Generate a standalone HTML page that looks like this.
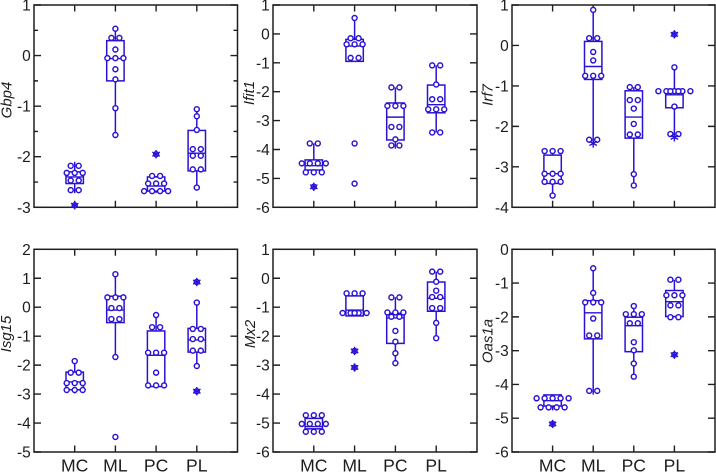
<!DOCTYPE html>
<html lang="en">
<head>
<meta charset="utf-8">
<title>Gene expression box plots</title>
<style>
html,body{margin:0;padding:0;background:#fff;width:716px;height:473px;overflow:hidden}
svg{display:block}
text{font-family:"Liberation Sans",Arial,sans-serif;fill:#1c1c1c}
</style>
</head>
<body>
<svg id="chart" width="716" height="473" viewBox="0 0 716 473" xmlns="http://www.w3.org/2000/svg"></svg>
<script>
const categories = ['MC', 'ML', 'PC', 'PL'];
const genes = ['Gbp4', 'Ifit1', 'Irf7', 'Isg15', 'Mx2', 'Oas1a'];

const yDomainMin = [-3, -6, -4, -5, -6, -6];
const yDomainMax = [1, 1, 1, 2, 1, 0];
const gbp4Ticks = [1, 0, -1, -2, -3];
const ifit1Ticks = [1, 0, -1, -2, -3, -4, -5, -6];
const irf7Ticks = [1, 0, -1, -2, -3, -4];
const isg15Ticks = [2, 1, 0, -1, -2, -3, -4, -5];
const mx2Ticks = [1, 0, -1, -2, -3, -4, -5, -6];
const oas1aTicks = [0, -1, -2, -3, -4, -5, -6];
const gbp4MinorTicks = [0.5, -0.5, -1.5, -2.5];

/* Repeated values sit side by side in a row. */
const gbp4Points = [
  [-2.18, -2.18, -2.32, -2.32, -2.32, -2.47, -2.47, -2.66, -2.66, -2.96],
  [0.53, 0.35, 0.35, 0.12, -0.05, -0.05, -0.05, -0.27, -0.47, -1.04, -1.57],
  [-1.95, -2.38, -2.38, -2.53, -2.53, -2.53, -2.68, -2.68, -2.68, -2.68],
  [-1.06, -1.2, -1.47, -1.85, -1.85, -1.98, -1.98, -2.25, -2.25, -2.61]
];
const ifit1Points = [
  [-3.79, -3.79, -4.48, -4.48, -4.48, -4.48, -4.79, -4.79, -4.79, -5.29],
  [0.55, -0.15, -0.15, -0.36, -0.36, -0.36, -0.83, -0.83, -3.79, -5.18],
  [-1.85, -1.85, -2.49, -2.49, -2.49, -3.22, -3.22, -3.65, -3.86, -3.86],
  [-1.09, -1.09, -1.75, -2.26, -2.26, -2.61, -2.61, -2.61, -3.41, -3.41]
];
const irf7Points = [
  [-2.61, -2.61, -2.61, -3.17, -3.17, -3.17, -3.37, -3.37, -3.37, -3.71],
  [0.88, 0.18, 0.18, -0.16, -0.37, -0.75, -0.75, -0.75, -2.33, -2.33],
  [-1.03, -1.03, -1.35, -1.35, -1.56, -1.94, -2.2, -2.2, -3.18, -3.46],
  [0.275, -0.54, -1.13, -1.13, -1.13, -1.13, -1.13, -1.131, -1.131, -1.51, -2.19, -2.19]
];
const isg15Points = [
  [-1.86, -2.26, -2.26, -2.62, -2.62, -2.62, -2.86, -2.86, -2.86],
  [1.14, 0.34, 0.34, 0.34, -0.03, -0.03, -0.41, -0.41, -1.72, -4.48],
  [-0.27, -0.69, -0.69, -1.57, -1.57, -1.57, -2.26, -2.7, -2.7, -2.7],
  [0.87, 0.16, -0.75, -0.75, -1.1, -1.1, -1.5, -1.5, -2.03, -2.9]
];
const mx2Points = [
  [-4.73, -4.73, -4.73, -5.03, -5.03, -5.03, -5.03, -5.3, -5.3, -5.3],
  [-0.52, -0.52, -0.52, -1.2, -1.2, -1.2, -1.2, -1.201, -2.51, -3.08],
  [-0.66, -0.66, -1.18, -1.18, -1.18, -1.33, -1.33, -1.82, -2.19, -2.59, -2.93],
  [0.23, 0.23, -0.12, -0.43, -0.65, -0.65, -1.03, -1.03, -1.54, -2.07]
];
const oas1aPoints = [
  [-4.41, -4.41, -4.41, -4.41, -4.41, -4.68, -4.68, -4.68, -4.68, -5.17],
  [-0.56, -1.29, -1.57, -1.57, -1.57, -2.05, -2.55, -2.55, -4.19, -4.19],
  [-1.68, -1.92, -1.92, -1.92, -2.19, -2.19, -2.75, -2.99, -3.38, -3.77],
  [-0.9, -0.9, -1.36, -1.36, -1.36, -1.66, -1.66, -2.01, -2.01, -3.12]
];

const gbp4Stars = [[-2.96], [], [-1.95], []];
const ifit1Stars = [[-5.29], [], [], []];
const irf7Stars = [[], [-2.42], [], [0.275, -2.27]];
const isg15Stars = [[], [], [], [0.87, -2.9]];
const mx2Stars = [[], [-2.51, -3.08], [], []];
const oas1aStars = [[-5.17], [], [], [-3.12]];

/* Each box: lower whisker, first quartile, median, third quartile, upper whisker. */
const gbp4Boxes = [
  [-2.72, -2.53, -2.4, -2.3, -2.1],
  [-1.57, -0.5, -0.06, 0.295, 0.53],
  [-2.72, -2.68, -2.58, -2.4, -2.38],
  [-2.61, -2.28, -1.93, -1.48, -1.06]
];
const ifit1Boxes = [
  [-4.9, -4.71, -4.56, -4.36, -3.79],
  [-0.95, -0.95, -0.42, -0.19, 0.55],
  [-3.97, -3.67, -2.88, -2.39, -1.85],
  [-3.41, -2.73, -2.45, -1.77, -1.09]
];
const irf7Boxes = [
  [-3.71, -3.41, -3.17, -2.71, -2.55],
  [-2.42, -0.84, -0.52, 0.1, 0.88],
  [-3.46, -2.29, -1.77, -1.12, -1.03],
  [-2.27, -1.54, -1.22, -1.08, -0.54]
];
const isg15Boxes = [
  [-2.98, -2.85, -2.58, -2.24, -1.86],
  [-1.72, -0.53, -0.1, 0.38, 1.14],
  [-2.74, -2.74, -1.66, -0.82, -0.27],
  [-2.03, -1.55, -1.13, -0.73, 0.16]
];
const mx2Boxes = [
  [-5.38, -5.2, -5.12, -4.84, -4.73],
  [-1.3, -1.3, -1.1, -0.61, -0.61],
  [-2.93, -2.25, -1.37, -1.21, -0.66],
  [-2.07, -1.14, -0.69, -0.13, 0.23]
];
const oas1aBoxes = [
  [-4.77, -4.64, -4.48, -4.31, -4.31],
  [-4.3, -2.65, -1.88, -1.52, -0.56],
  [-3.77, -3.03, -2.26, -2.01, -1.68],
  [-2.01, -1.99, -1.55, -1.22, -0.9]
];

const allTicks = [gbp4Ticks, ifit1Ticks, irf7Ticks, isg15Ticks, mx2Ticks, oas1aTicks];
const allMinor = [gbp4MinorTicks, [], [], [], [], []];
const allPoints = [gbp4Points, ifit1Points, irf7Points, isg15Points, mx2Points, oas1aPoints];
const allStars = [gbp4Stars, ifit1Stars, irf7Stars, isg15Stars, mx2Stars, oas1aStars];
const allBoxes = [gbp4Boxes, ifit1Boxes, irf7Boxes, isg15Boxes, mx2Boxes, oas1aBoxes];

const NS = 'http://www.w3.org/2000/svg';
const INK = '#1f1f1f';
const BLUE = '#2a12d4';
const svg = document.getElementById('chart');

const frames = [
  {l: 34, r: 237.5, t: 5, b: 207.3, labX: 11.7, labY: 100},
  {l: 273, r: 477, t: 5, b: 207.3, labX: 254, labY: 93},
  {l: 512, r: 715, t: 5, b: 207.3, labX: 492.7, labY: 95},
  {l: 34, r: 237.5, t: 249.3, b: 452, labX: 11, labY: 334},
  {l: 273, r: 477, t: 249.3, b: 452, labX: 255, labY: 334},
  {l: 512, r: 715, t: 249.3, b: 452, labX: 492.7, labY: 341}
];

function node(parent, tag, attrs) {
  const el = document.createElementNS(NS, tag);
  for (const k in attrs) el.setAttribute(k, attrs[k]);
  parent.appendChild(el);
  return el;
}

function drawPanel(i) {
  const f = frames[i];
  const xScale = c => f.l + (c + 1) * (f.r - f.l) / 5;
  const yScale = v => f.b - (v - yDomainMin[i]) / (yDomainMax[i] - yDomainMin[i]) * (f.b - f.t);

  const g = node(svg, 'g', {});
  
  

  const frame = node(g, 'rect', {x: f.l, y: f.t, width: f.r - f.l, height: f.b - f.t, fill: 'none', stroke: INK, 'stroke-width': 1.5});
  
  

  allTicks[i].forEach(v => {
    const y = yScale(v);
    const ticks = node(g, 'path', {d: 'M' + f.l + ' ' + y + 'h7M' + f.r + ' ' + y + 'h-7', stroke: INK, 'stroke-width': 1.4, fill: 'none'});
    
    
    const label = node(g, 'text', {x: f.l - 3.2, y: y + 5.5, 'text-anchor': 'end', 'font-size': 15.5});
    label.textContent = String(v);
    
    
  });

  allMinor[i].forEach(v => {
    const y = yScale(v);
    const minor = node(g, 'path', {d: 'M' + f.l + ' ' + y + 'h4M' + f.r + ' ' + y + 'h-4', stroke: INK, 'stroke-width': 1.4, fill: 'none'});
    
    
  });

  categories.forEach((name, c) => {
    const x = xScale(c);
    const xt = node(g, 'path', {d: 'M' + x + ' ' + f.t + 'v6.5M' + x + ' ' + f.b + 'v-6.5', stroke: INK, 'stroke-width': 1.4, fill: 'none'});
    
    
    if (i >= 3) {
      const lab = node(g, 'text', {x: x, y: 471.3, 'text-anchor': 'middle', 'font-size': 17.6});
      lab.textContent = name;
      
      
    }
  });

  const title = node(g, 'text', {
    x: 0, y: 0, 'text-anchor': 'middle', 'font-size': 15, 'font-style': 'italic',
    transform: 'translate(' + f.labX + ' ' + f.labY + ') rotate(-90)'
  });
  title.textContent = genes[i];
  
  

  categories.forEach((name, c) => {
    const x = xScale(c);
    const [lo, q1, med, q3, hi] = allBoxes[i][c];
    const group = node(g, 'g', {});
    
    

    const whisker = node(group, 'path', {
      d: 'M' + x + ' ' + yScale(hi) + 'V' + yScale(q3) + 'M' + x + ' ' + yScale(q1) + 'V' + yScale(lo),
      stroke: BLUE, 'stroke-width': 1.5, fill: 'none'
    });
    
    

    const box = node(group, 'rect', {x: x - 8.7, y: yScale(q3), width: 17.4, height: yScale(q1) - yScale(q3), fill: 'none', stroke: BLUE, 'stroke-width': 1.5});
    
    

    const median = node(group, 'line', {x1: x - 8.7, x2: x + 8.7, y1: yScale(med), y2: yScale(med), stroke: BLUE, 'stroke-width': 1.4});
    
    

    const vals = allPoints[i][c];
    const counts = {};
    vals.forEach(v => { counts[v] = (counts[v] || 0) + 1; });
    const seen = {};
    vals.forEach(v => {
      const idx = seen[v] = (seen[v] || 0) + 1;
      const px = x + (idx - 1 - (counts[v] - 1) / 2) * 8;
      const dot = node(group, 'circle', {cx: px, cy: yScale(v), r: 2.5, fill: '#fff', stroke: BLUE, 'stroke-width': 1.45});
      
      
    });

    allStars[i][c].forEach(v => {
      const y = yScale(v);
      const star = node(group, 'path', {
        d: 'M' + x + ' ' + (y - 4.2) + 'v8.4M' + (x - 3.7) + ' ' + (y - 2.1) + 'l7.4 4.2M' + (x - 3.7) + ' ' + (y + 2.1) + 'l7.4 -4.2',
        stroke: BLUE, 'stroke-width': 1.4, fill: 'none'
      });
      
      
    });
  });
}

genes.forEach((_, i) => drawPanel(i));
</script>
</body>
</html>
